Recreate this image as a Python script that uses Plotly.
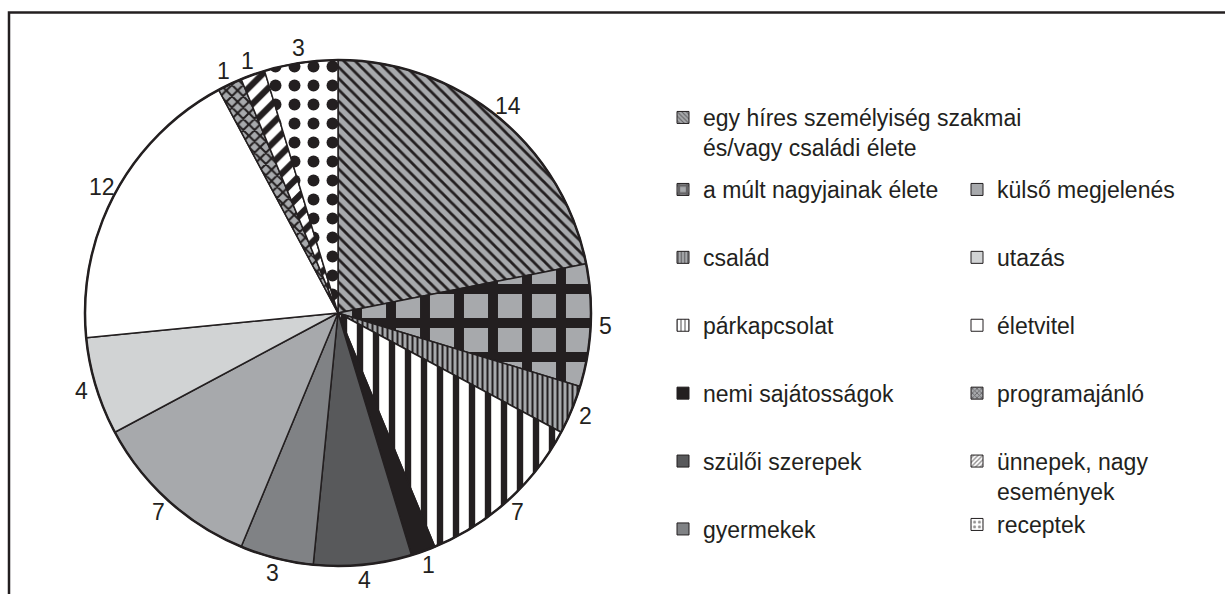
import math
import plotly.graph_objects as go

# ---- data ----
labels = [
    "egy híres személyiség szakmai<br>és/vagy családi élete",
    "a múlt nagyjainak élete",
    "család",
    "párkapcsolat",
    "nemi sajátosságok",
    "szülői szerepek",
    "gyermekek",
    "külső megjelenés",
    "utazás",
    "életvitel",
    "programajánló",
    "ünnepek, nagy<br>események",
    "receptek",
]
values = [14, 5, 2, 7, 1, 4, 3, 7, 4, 12, 1, 1, 3]

# ---- styles ----
BLACK = "#231f20"
bg_colors = ["#a7a9ac", "#a7a9ac", "#a7a9ac", "#ffffff", BLACK, "#58595b", "#808285",
             "#a7a9ac", "#d1d3d4", "#ffffff", "#a7a9ac", "#ffffff", "#ffffff"]
pat_shapes = ["\\", "+", "|", "|", "", "", "", "", "", "", "x", "/", "."]
pat_sizes = [8, 34, 5, 16, 8, 8, 8, 8, 8, 8, 8, 14, 19]
pat_solid = [0.35, 0.5, 0.4, 0.4, 0.3, 0.3, 0.3, 0.3, 0.3, 0.3, 0.45, 0.45, 0.31]
legend_ids = ["legend"] + ["legend2"] * 6 + ["legend3"] * 5 + ["legend4"]

FONT = "Liberation Sans, Arial, Helvetica, sans-serif"
FS = 23
W, H = 1225, 594
CX, CY, R = 338, 313, 253      # pie centre / radius in pixels
R_LABEL = 268                  # distance of value labels from centre

fig = go.Figure()

fig.add_trace(go.Pie(
    labels=labels,
    values=values,
    sort=False,
    direction="clockwise",
    rotation=0,
    textinfo="none",
    marker=dict(
        colors=bg_colors,
        line=dict(color=BLACK, width=1.5),
        pattern=dict(shape=pat_shapes, fgcolor=BLACK, bgcolor=bg_colors,
                     size=pat_sizes, solidity=pat_solid),
    ),
    domain=dict(x=[(CX - R) / W, (CX + R) / W], y=[1 - (CY + R) / H, 1 - (CY - R) / H]),
    showlegend=False,
    hoverinfo="label+value",
))

# value labels just outside each slice, at the slice's middle angle
total = sum(values)
annotations = []
cum = 0
for v in values:
    mid = (cum + v / 2) / total * 2 * math.pi
    cum += v
    px = CX + R_LABEL * math.sin(mid)
    py = CY - R_LABEL * math.cos(mid)
    annotations.append(dict(x=px / W, y=1 - py / H, xref="paper", yref="paper",
                            text=str(v), showarrow=False, xanchor="center", yanchor="middle",
                            font=dict(family=FONT, size=FS, color=BLACK)))

# legend entries (same styles as the slices)
for i, lab in enumerate(labels):
    fig.add_trace(go.Bar(
        x=[None], y=[None], name=lab,
        marker=dict(color=bg_colors[i], line=dict(color=BLACK, width=1),
                    pattern=dict(shape=pat_shapes[i], fgcolor=BLACK, bgcolor=bg_colors[i],
                                 size=max(4, pat_sizes[i] // 3), solidity=pat_solid[i])),
        legend=legend_ids[i], legendgroup=f"g{i}", showlegend=True, hoverinfo="skip",
    ))

leg_common = dict(font=dict(family=FONT, size=FS, color=BLACK), bgcolor="rgba(0,0,0,0)",
                  xanchor="left", yanchor="top", itemwidth=30, itemclick=False,
                  itemdoubleclick=False, valign="top")

GAP = 35.0
fig.update_layout(
    width=W, height=H,
    margin=dict(l=0, r=0, t=0, b=0),
    paper_bgcolor="white", plot_bgcolor="white",
    xaxis=dict(visible=False), yaxis=dict(visible=False),
    legend=dict(x=663 / W, y=1 - 96 / H, tracegroupgap=0, **leg_common),
    legend2=dict(x=663 / W, y=1 - 168 / H, tracegroupgap=GAP, **leg_common),
    legend3=dict(x=957 / W, y=1 - 168 / H, tracegroupgap=GAP, **leg_common),
    legend4=dict(x=957 / W, y=1 - 503 / H, tracegroupgap=0, **leg_common),
    annotations=annotations,
    shapes=[
        dict(type="rect", xref="paper", yref="paper",
             x0=9 / W, x1=1.05, y0=-0.05, y1=1 - 12.5 / H,
             line=dict(color=BLACK, width=2.5)),
        dict(type="circle", xref="paper", yref="paper",
             x0=(CX - R) / W, x1=(CX + R) / W, y0=1 - (CY + R) / H, y1=1 - (CY - R) / H,
             line=dict(color=BLACK, width=2.5), layer="above"),
    ],
)

fig.write_html("out.html", config={"displayModeBar": False},
               post_script="document.body.style.margin='0';document.body.style.overflow='hidden';")
